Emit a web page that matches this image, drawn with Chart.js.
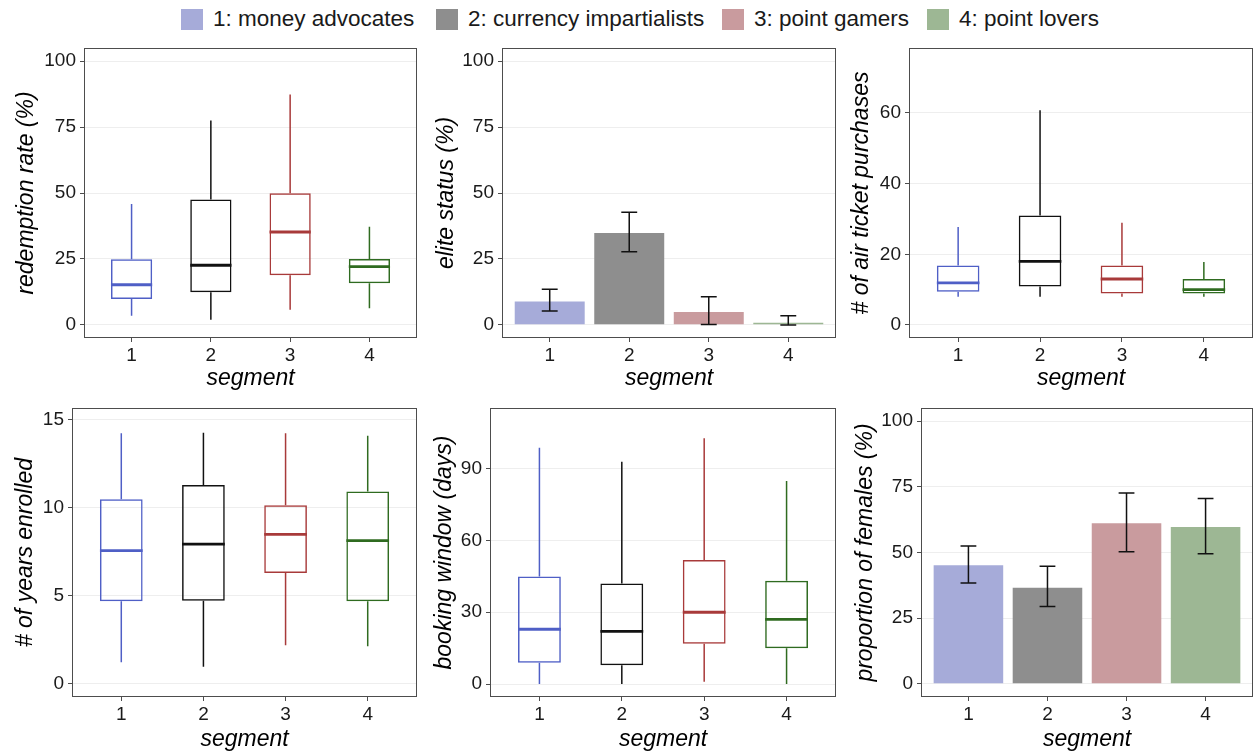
<!DOCTYPE html>
<html>
<head>
<meta charset="utf-8">
<title>segment profiles</title>
<script src="https://cdn.jsdelivr.net/npm/chart.js@4.4.1/dist/chart.umd.min.js"></script>
<style>
  body { margin: 0; background: #fff; width: 1254px; height: 755px; position: relative; overflow: hidden;
         font-family: "Liberation Sans", Arial, sans-serif; }
  canvas { position: absolute; }
  .key { position: absolute; top: 9px; width: 22px; height: 21px; }
  .lab { position: absolute; top: 5px; font-size: 22.5px; line-height: 28px; color: #1a1a1a; white-space: nowrap; }
</style>
</head>
<body>
<div id="legend"></div>

<script>
// segments and legend
const segments = [1, 2, 3, 4];
const segmentNames = ['1: money advocates', '2: currency impartialists', '3: point gamers', '4: point lovers'];
const lineColors = ['#4f5fc6', '#111111', '#a83a3a', '#2f6b20'];
const fillColors = ['#a6abd9', '#8e8e8e', '#c99b9e', '#9db794'];

// box plots: [lower whisker, Q1, median, Q3, upper whisker] per segment
const redemptionStats = [
  [3.4, 9.8, 15.2, 24.9, 45.8],
  [1.9, 12.4, 22.6, 47.5, 77.5],
  [5.7, 18.8, 35.2, 49.9, 87.4],
  [6.3, 15.8, 22.1, 25.0, 37.2]
];
const ticketStats = [
  [8.0, 9.4, 11.9, 16.8, 27.7],
  [8.0, 10.9, 18.0, 31.0, 60.8],
  [8.0, 8.9, 13.0, 16.8, 28.9],
  [8.0, 8.9, 10.0, 13.0, 17.8]
];
const yearsStats = [
  [1.23, 4.70, 7.58, 10.49, 14.24],
  [0.98, 4.73, 7.95, 11.30, 14.28],
  [2.20, 6.30, 8.50, 10.15, 14.24],
  [2.14, 4.70, 8.14, 10.93, 14.10]
];
const windowStats = [
  [0.0, 8.9, 22.9, 44.9, 98.7],
  [0.0, 7.9, 22.0, 42.0, 92.9],
  [1.0, 16.8, 30.0, 51.8, 102.7],
  [0.0, 15.0, 27.0, 43.1, 84.8]
];

// bar charts with error bars
const eliteValues = [8.8, 34.8, 4.9, 0.8];
const eliteLow = [5.2, 27.7, 0.1, -0.1];
const eliteHigh = [13.5, 42.7, 10.6, 3.4];
const femaleValues = [45.1, 36.6, 61.1, 59.7];
const femaleLow = [38.4, 29.4, 50.3, 49.5];
const femaleHigh = [52.5, 44.8, 72.6, 70.6];

// tick labels
const pctTicks = [0, 25, 50, 75, 100];
const ticketTicks = [0, 20, 40, 60];
const yearTicks = [0, 5, 10, 15];
const windowTicks = [0, 30, 60, 90];

// legend
const legendEl = document.getElementById('legend');
const keyLeft = [181, 436, 722, 927];
segmentNames.forEach((name, i) => {
  const key = document.createElement('div');
  key.className = 'key';
  key.style.left = keyLeft[i] + 'px';
  key.style.background = fillColors[i];
  const lab = document.createElement('div');
  lab.className = 'lab';
  lab.style.left = (keyLeft[i] + 32) + 'px';
  lab.textContent = name;
  legendEl.appendChild(key);
  legendEl.appendChild(lab);
});

// frame round the plot area
const framePlugin = {
  id: 'frame',
  afterDraw(chart) {
    const { ctx, chartArea: a } = chart;
    ctx.save();
    ctx.strokeStyle = '#4d4d4d';
    ctx.lineWidth = 1;
    ctx.strokeRect(Math.round(a.left) + 0.5, Math.round(a.top) + 0.5,
                   Math.round(a.right - a.left) - 1, Math.round(a.bottom - a.top) - 1);
    ctx.restore();
  }
};

// whiskers and medians for the box plots
const whiskerPlugin = {
  id: 'whiskers',
  afterDatasetsDraw(chart, args, opts) {
    if (!opts.stats) return;
    const { ctx, scales: { x, y } } = chart;
    const bars = chart.getDatasetMeta(0).data;
    ctx.save();
    opts.stats.forEach((s, i) => {
      const px = x.getPixelForValue(segments[i]);
      const half = bars[i].width / 2;
      ctx.strokeStyle = lineColors[i];
      ctx.lineWidth = 1.5;
      ctx.beginPath();
      ctx.moveTo(px, y.getPixelForValue(s[0]));
      ctx.lineTo(px, y.getPixelForValue(s[1]));
      ctx.moveTo(px, y.getPixelForValue(s[3]));
      ctx.lineTo(px, y.getPixelForValue(s[4]));
      ctx.stroke();
      ctx.lineWidth = 2.8;
      ctx.beginPath();
      ctx.moveTo(px - half, y.getPixelForValue(s[2]));
      ctx.lineTo(px + half, y.getPixelForValue(s[2]));
      ctx.stroke();
    });
    ctx.restore();
  }
};

// error bars for the bar charts
const errorPlugin = {
  id: 'errorbars',
  afterDatasetsDraw(chart, args, opts) {
    if (!opts.low) return;
    const { ctx, scales: { x, y } } = chart;
    ctx.save();
    ctx.strokeStyle = '#111';
    ctx.lineWidth = 1.5;
    segments.forEach((seg, i) => {
      const px = x.getPixelForValue(seg);
      const l = x.getPixelForValue(seg - 0.1);
      const r = x.getPixelForValue(seg + 0.1);
      const lo = y.getPixelForValue(opts.low[i]);
      const hi = y.getPixelForValue(opts.high[i]);
      ctx.beginPath();
      ctx.moveTo(px, lo); ctx.lineTo(px, hi);
      ctx.moveTo(l, lo); ctx.lineTo(r, lo);
      ctx.moveTo(l, hi); ctx.lineTo(r, hi);
      ctx.stroke();
    });
    ctx.restore();
  }
};

const tickFont = { family: '"Liberation Sans", Arial, sans-serif', size: 19 };
const titleFont = { family: '"Liberation Sans", Arial, sans-serif', size: 23, style: 'italic' };

function makePanel(p) {
  const c = document.createElement('canvas');
  c.width = p.box.width;
  c.height = p.box.height;
  c.style.left = p.box.left + 'px';
  c.style.top = p.box.top + 'px';
  document.body.appendChild(c);

  const isBox = !!p.stats;
  const dataset = isBox ? {
    data: p.stats.map((s, i) => ({ x: segments[i], y: [s[1], s[3]] })),
    backgroundColor: 'rgba(255,255,255,0)',
    borderColor: lineColors,
    borderWidth: 1.5,
    borderSkipped: false,
    barPercentage: 0.52,
    categoryPercentage: 1
  } : {
    data: p.values.map((v, i) => ({ x: segments[i], y: v })),
    backgroundColor: fillColors,
    borderWidth: 0,
    barPercentage: 0.88,
    categoryPercentage: 1
  };

  new Chart(c, {
    type: 'bar',
    data: { datasets: [dataset] },
    options: {
      responsive: false,
      animation: false,
      events: [],
      layout: { padding: { left: 0, bottom: 0, top: p.plot.T - p.box.top, right: p.box.left + p.box.width - p.plot.R } },
      plugins: {
        legend: { display: false },
        tooltip: { enabled: false },
        whiskers: { stats: p.stats },
        errorbars: { low: p.low, high: p.high }
      },
      scales: {
        x: {
          type: 'linear',
          min: 0.4, max: 4.6,
          offset: false,
          afterBuildTicks: s => { s.ticks = segments.map(v => ({ value: v })); },
          afterFit: s => {
            s.height = p.box.top + p.box.height - p.plot.B;
            s.paddingLeft = 0; s.paddingRight = 0;
          },
          grid: { offset: false, drawOnChartArea: false, drawTicks: true, tickLength: 4, tickColor: '#4d4d4d', tickWidth: 1 },
          border: { display: false },
          ticks: { font: tickFont, color: '#1a1a1a', padding: 2, maxRotation: 0 },
          title: { display: true, text: 'segment', font: titleFont, color: '#000', padding: { top: 0, bottom: p.xTitlePad } }
        },
        y: {
          type: 'linear',
          min: p.yMin, max: p.yMax,
          afterBuildTicks: s => { s.ticks = p.yTicks.map(v => ({ value: v })); },
          afterFit: s => {
            s.width = p.plot.L - p.box.left;
            s.paddingTop = 0; s.paddingBottom = 0;
          },
          grid: { color: '#eeeeee', lineWidth: 1, drawTicks: true, tickLength: 4, tickColor: '#4d4d4d', tickWidth: 1 },
          border: { display: false },
          ticks: { font: tickFont, color: '#1a1a1a', padding: 4 },
          title: { display: true, text: p.yTitle, font: titleFont, color: '#000', padding: { top: p.yTitleCenter - 13.8, bottom: 0 } }
        }
      }
    },
    plugins: [framePlugin, whiskerPlugin, errorPlugin]
  });
}

const panels = [
  { box: { left: 0, top: 40, width: 420, height: 350 }, plot: { L: 84, T: 48, R: 417, B: 338 },
    yTitle: 'redemption rate (%)', yMin: -5, yMax: 105, yTicks: pctTicks, stats: redemptionStats,
    yTitleCenter: 27, xTitlePad: -2.5 },
  { box: { left: 420, top: 40, width: 420, height: 350 }, plot: { L: 502, T: 48, R: 836, B: 338 },
    yTitle: 'elite status (%)', yMin: -5, yMax: 105, yTicks: pctTicks,
    values: eliteValues, low: eliteLow, high: eliteHigh, yTitleCenter: 27, xTitlePad: -2.5 },
  { box: { left: 835, top: 40, width: 419, height: 350 }, plot: { L: 909, T: 48, R: 1253, B: 338 },
    yTitle: '# of air ticket purchases', yMin: -3.7, yMax: 78.4, yTicks: ticketTicks, stats: ticketStats,
    yTitleCenter: 27, xTitlePad: -2.5 },
  { box: { left: 0, top: 390, width: 420, height: 365 }, plot: { L: 72, T: 408, R: 417, B: 697 },
    yTitle: '# of years enrolled', yMin: -0.74, yMax: 15.68, yTicks: yearTicks, stats: yearsStats,
    yTitleCenter: 26, xTitlePad: 2 },
  { box: { left: 420, top: 390, width: 420, height: 365 }, plot: { L: 490, T: 408, R: 836, B: 697 },
    yTitle: 'booking window (days)', yMin: -5.4, yMax: 115.3, yTicks: windowTicks, stats: windowStats,
    yTitleCenter: 25, xTitlePad: 2 },
  { box: { left: 835, top: 390, width: 419, height: 365 }, plot: { L: 921, T: 408, R: 1253, B: 697 },
    yTitle: 'proportion of females (%)', yMin: -5, yMax: 105, yTicks: pctTicks,
    values: femaleValues, low: femaleLow, high: femaleHigh, yTitleCenter: 31, xTitlePad: 2 }
];

panels.forEach(makePanel);
</script>
</body>
</html>
